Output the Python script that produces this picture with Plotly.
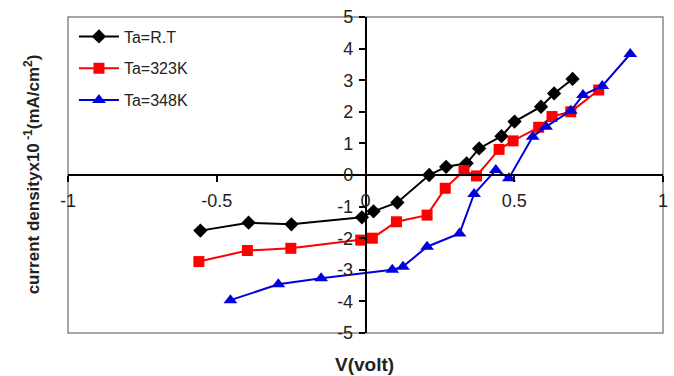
import plotly.graph_objects as go

# Data
rt_v = [-0.555, -0.393, -0.249, -0.012, 0.027, 0.107, 0.214, 0.271, 0.340, 0.382, 0.457, 0.501, 0.590, 0.634, 0.696]
rt_j = [-1.76, -1.51, -1.56, -1.34, -1.15, -0.87, 0.0, 0.26, 0.37, 0.84, 1.23, 1.69, 2.16, 2.58, 3.04]

k323_v = [-0.560, -0.397, -0.251, -0.016, 0.023, 0.104, 0.207, 0.268, 0.331, 0.373, 0.449, 0.496, 0.582, 0.627, 0.690, 0.784]
k323_j = [-2.74, -2.39, -2.32, -2.06, -2.00, -1.48, -1.27, -0.42, 0.14, -0.03, 0.81, 1.08, 1.51, 1.85, 2.00, 2.69]

k348_v = [-0.454, -0.293, -0.149, 0.090, 0.126, 0.207, 0.316, 0.365, 0.438, 0.482, 0.562, 0.607, 0.690, 0.731, 0.796, 0.890]
k348_j = [-3.96, -3.46, -3.27, -3.00, -2.90, -2.27, -1.85, -0.60, 0.16, -0.10, 1.21, 1.53, 2.03, 2.53, 2.82, 3.83]

series_names = ["Ta=R.T", "Ta=323K", "Ta=348K"]
x_ticks = [-1, -0.5, 0, 0.5, 1]
x_tick_labels = ["-1", "-0.5", "0", "0.5", "1"]
y_ticks = [-5, -4, -3, -2, -1, 0, 1, 2, 3, 4, 5]
y_tick_labels = [str(v) for v in y_ticks]

FONT = "Liberation Sans, Arial, sans-serif"

fig = go.Figure()
fig.add_trace(go.Scatter(x=rt_v, y=rt_j, name=series_names[0], mode="lines+markers",
                         line=dict(color="#000000", width=2),
                         marker=dict(symbol="diamond", size=11, color="#000000"),
                         legendgroup="a"))
fig.add_trace(go.Scatter(x=k323_v, y=k323_j, name=series_names[1], mode="lines+markers",
                         line=dict(color="#FF0000", width=2),
                         marker=dict(symbol="square", size=11, color="#FF0000"),
                         legendgroup="b"))
fig.add_trace(go.Scatter(x=k348_v, y=k348_j, name=series_names[2], mode="lines+markers",
                         line=dict(color="#0000DD", width=2),
                         marker=dict(symbol="triangle-up", size=12, color="#0000DD"),
                         legendgroup="c"))

fig.update_layout(
    width=674, height=376,
    margin=dict(l=68, r=6, t=17, b=43),
    paper_bgcolor="white", plot_bgcolor="white",
    font=dict(family=FONT, color="#222222"),
    showlegend=True,
    legend=dict(x=0.01, y=0.992, xanchor="left", yanchor="top",
                bgcolor="rgba(0,0,0,0)", font=dict(size=16, family=FONT, color="#222"),
                traceorder="grouped", tracegroupgap=8, itemwidth=40),
    xaxis=dict(range=[-1, 1], tickvals=x_ticks, ticktext=x_tick_labels,
               anchor="free", position=0.5, showline=True, linecolor="black", linewidth=1.5,
               ticks="outside", ticklen=6, tickcolor="black", tickwidth=1.5,
               showgrid=False, zeroline=False, tickfont=dict(size=18, family=FONT, color="#222"),
               ticklabelstandoff=4, domain=[0, 1]),
    yaxis=dict(range=[-5, 5], tickvals=y_ticks, ticktext=y_tick_labels,
               anchor="free", position=0.5, showline=True, linecolor="black", linewidth=1.5,
               ticks="outside", ticklen=6, tickcolor="black", tickwidth=1.5,
               showgrid=False, zeroline=False, tickfont=dict(size=18, family=FONT, color="#222"),
               ticklabelstandoff=2, domain=[0, 1]),
    shapes=[dict(type="rect", xref="paper", yref="paper", x0=0, y0=0, x1=1, y1=1,
                 line=dict(color="#888888", width=1.5), layer="below")],
    annotations=[
        dict(text="<b>V(volt)</b>", xref="paper", yref="paper", x=0.498, y=-0.101,
             xanchor="center", yanchor="middle", showarrow=False,
             font=dict(size=19, family=FONT, color="#222")),
        dict(text="<b>current densityx10<sup> -1</sup>(mA/cm<sup>2</sup>)</b>", xref="paper", yref="paper",
             x=-0.06, y=0.503, xanchor="center", yanchor="middle", textangle=-90, showarrow=False,
             font=dict(size=17, family=FONT, color="#222")),
    ],
)

fig.write_html("out.html")
